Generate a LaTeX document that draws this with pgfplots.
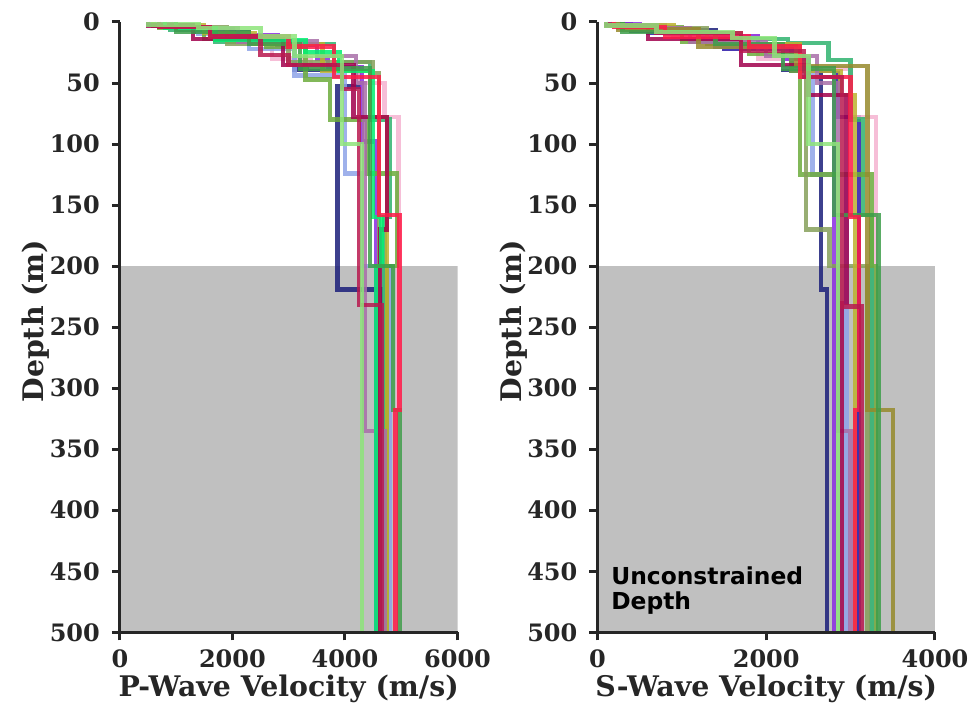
\documentclass[border=0pt]{standalone}
\usepackage{fontspec}
\setmainfont{DejaVu Serif}
\newfontfamily\sansfnt{DejaVu Sans}
\usepackage{pgfplots}
\pgfplotsset{compat=1.18}

\definecolor{axgray}{HTML}{262626}
\definecolor{shade}{HTML}{C0C0C0}
\definecolor{cnavy}{HTML}{1B1F7A}
\definecolor{cindigo}{HTML}{2A18A8}
\definecolor{ccrimson}{HTML}{B8194F}
\definecolor{cpink}{HTML}{F4B3D0}
\definecolor{cpurple}{HTML}{8A2BE2}
\definecolor{clblue}{HTML}{8EA3E8}
\definecolor{cgreen}{HTML}{2FB36E}
\definecolor{clgreen}{HTML}{8DE47A}
\definecolor{cogreen}{HTML}{6CAB3C}
\definecolor{cgolive}{HTML}{86A05A}
\definecolor{cyolive}{HTML}{BCB12E}
\definecolor{cmauve}{HTML}{A86EA8}
\definecolor{cred}{HTML}{FF1A47}
\definecolor{cmaroon}{HTML}{A1004C}
\definecolor{cdgreen}{HTML}{3D9E4A}
\definecolor{cbgreen}{HTML}{00F070}
\definecolor{cobrown}{HTML}{968A2C}

\pgfplotsset{
  velax/.style={
    scale only axis, width=169pt, height=305.5pt,
    ymin=0, ymax=500, y dir=reverse,
    axis x line*=bottom, axis y line*=left,
    axis line style={line width=1.5pt, color=axgray},
    tick align=outside,
    major tick length=4pt,
    tick style={line width=1.5pt, color=axgray},
    ytick={0,50,...,500},
    scaled ticks=false,
    /pgf/number format/set thousands separator={},
    /pgf/number format/assume math mode=true,
    tick label style={font=\fontsize{12}{14}\selectfont\bfseries, color=axgray},
    yticklabel style={xshift=-2.5pt},
    xticklabel style={yshift=-1pt},
    label style={font=\fontsize{14.2}{17}\selectfont\bfseries, color=axgray},
    ylabel style={at={(axis description cs:-0.2485,0.51)}, anchor=center},
    xlabel style={at={(axis description cs:0.5,-0.0933)}, anchor=center},
    axis on top,
    clip=true,
  },
  prof/.style={line width=2.2pt, opacity=0.85, no marks, line join=miter, sharp plot},
}

\begin{document}
\begin{tikzpicture}
\path (-60pt,-38.5pt) rectangle (427.5pt,316.5pt);

% ---------------- P-wave ----------------
\begin{axis}[velax, at={(0,0)}, anchor=south west,
  xmin=0, xmax=6000, xtick={0,2000,4000,6000},
  xlabel={P-Wave Velocity (m/s)}, ylabel={Depth (m)}]
\addplot[fill=shade, draw=none] coordinates {(0,200) (6000,200) (6000,500) (0,500)} -- cycle;
\addplot[prof, cnavy] coordinates {(600,0)(600,3)(1300,3)(1300,8)(2300,8)(2300,17)(3100,17)(3100,39)(4250,39)(4250,53)(3870,53)(3870,219)(4630,219)(4630,500)};
\addplot[prof, cpink] coordinates {(800,0)(800,5)(1800,5)(1800,14)(2700,14)(2700,30)(3400,30)(3400,37)(4250,37)(4250,50)(4700,50)(4700,78)(4950,78)(4950,500)};
\addplot[prof, cpurple] coordinates {(500,0)(500,2)(1000,2)(1000,6)(2000,6)(2000,11)(2800,11)(2800,19)(3500,19)(3500,30)(3700,30)(3700,37)(4300,37)(4300,98)(4550,98)(4550,500)};
\addplot[prof, clblue] coordinates {(650,0)(650,3)(1400,3)(1400,10)(2300,10)(2300,22)(3100,22)(3100,44)(4000,44)(4000,124)(4300,124)(4300,200)(4800,200)(4800,500)};
\addplot[prof, cgreen] coordinates {(900,0)(900,6)(1700,6)(1700,16)(3100,16)(3100,18)(3800,18)(3800,33)(4450,33)(4450,80)(4800,80)(4800,160)(4700,160)(4700,500)};
\addplot[prof, cogreen] coordinates {(700,0)(700,5)(1500,5)(1500,14)(2600,14)(2600,20)(3300,20)(3300,47)(3730,47)(3730,80)(4400,80)(4400,124)(4920,124)(4920,200)(4750,200)(4750,500)};
\addplot[prof, cgolive] coordinates {(800,0)(800,4)(1900,4)(1900,18)(3000,18)(3000,33)(4500,33)(4500,42)(4600,42)(4600,500)};
\addplot[prof, cyolive] coordinates {(600,0)(600,3)(1500,3)(1500,9)(2400,9)(2400,18)(3600,18)(3600,40)(4450,40)(4450,78)(4750,78)(4750,500)};
\addplot[prof, cmauve] coordinates {(900,0)(900,5)(2100,5)(2100,16)(3500,16)(3500,28)(4200,28)(4200,50)(4350,50)(4350,335)(4700,335)(4700,500)};
\addplot[prof, cmaroon] coordinates {(500,0)(500,3)(1300,3)(1300,14)(2900,14)(2900,35)(4150,35)(4150,78)(4750,78)(4750,170)(4620,170)(4620,500)};
\addplot[prof, cbgreen] coordinates {(800,0)(800,5)(1700,5)(1700,15)(3300,15)(3300,25)(3900,25)(3900,40)(4500,40)(4500,160)(4650,160)(4650,200)(4550,200)(4550,500)};
\addplot[prof, cdgreen] coordinates {(1000,0)(1000,8)(2300,8)(2300,18)(3200,18)(3200,38)(4450,38)(4450,200)(4850,200)(4850,318)(4970,318)(4970,500)};
\addplot[prof, cred] coordinates {(700,0)(700,4)(1600,4)(1600,12)(3000,12)(3000,20)(3800,20)(3800,45)(4600,45)(4600,158)(4970,158)(4970,318)(4900,318)(4900,500)};
\addplot[prof, ccrimson] coordinates {(700,0)(700,4)(1600,4)(1600,12)(2500,12)(2500,27)(3000,27)(3000,35)(3950,35)(3950,55)(4250,55)(4250,232)(4650,232)(4650,500)};
\addplot[prof, clgreen] coordinates {(500,0)(500,2)(1400,2)(1400,5)(2500,5)(2500,12)(3100,12)(3100,28)(3950,28)(3950,100)(4300,100)(4300,500)};
\end{axis}

% ---------------- S-wave ----------------
\begin{axis}[velax, at={(239pt,0)}, anchor=south west,
  xmin=0, xmax=4000, xtick={0,2000,4000},
  xlabel={S-Wave Velocity (m/s)}, ylabel={Depth (m)}]
\addplot[fill=shade, draw=none] coordinates {(0,200) (4000,200) (4000,500) (0,500)} -- cycle;
\addplot[prof, cnavy] coordinates {(100,0)(100,2)(400,2)(400,7)(1400,7)(1400,20)(2200,20)(2200,39)(2650,39)(2650,219)(2720,219)(2720,500)};
\addplot[prof, cindigo] coordinates {(150,0)(150,3)(600,3)(600,9)(1500,9)(1500,22)(2300,22)(2300,40)(2850,40)(2850,78)(3100,78)(3100,500)};
\addplot[prof, cpink] coordinates {(200,0)(200,4)(900,4)(900,12)(1900,12)(1900,30)(2500,30)(2500,38)(3000,38)(3000,78)(3300,78)(3300,500)};
\addplot[prof, cpurple] coordinates {(100,0)(100,2)(500,2)(500,6)(1200,6)(1200,12)(1900,12)(1900,22)(2250,22)(2250,30)(2500,30)(2500,45)(2800,45)(2800,500)};
\addplot[prof, clblue] coordinates {(150,0)(150,3)(800,3)(800,10)(1400,10)(1400,20)(2200,20)(2200,37)(2550,37)(2550,125)(2950,125)(2950,500)};
\addplot[prof, cgreen] coordinates {(300,0)(300,5)(1000,5)(1000,14)(2260,14)(2260,17)(2740,17)(2740,31)(3000,31)(3000,80)(3150,80)(3150,158)(3250,158)(3250,500)};
\addplot[prof, cogreen] coordinates {(250,0)(250,4)(1000,4)(1000,16)(1800,16)(1800,26)(2300,26)(2300,40)(2400,40)(2400,125)(3250,125)(3250,200)(3300,200)(3300,500)};
\addplot[prof, cgolive] coordinates {(300,0)(300,5)(1300,5)(1300,18)(2400,18)(2400,33)(2470,33)(2470,170)(2750,170)(2750,200)(3200,200)(3200,500)};
\addplot[prof, cyolive] coordinates {(200,0)(200,3)(900,3)(900,9)(1700,9)(1700,18)(2400,18)(2400,40)(2880,40)(2880,60)(3050,60)(3050,500)};
\addplot[prof, cmauve] coordinates {(250,0)(250,5)(1100,5)(1100,16)(2000,16)(2000,28)(2600,28)(2600,50)(2850,50)(2850,335)(3000,335)(3000,500)};
\addplot[prof, cmaroon] coordinates {(100,0)(100,3)(600,3)(600,14)(1700,14)(1700,35)(2500,35)(2500,60)(2950,60)(2950,230)(2900,230)(2900,500)};
\addplot[prof, cobrown] coordinates {(250,0)(250,6)(1200,6)(1200,20)(2350,20)(2350,36)(3200,36)(3200,318)(3500,318)(3500,500)};
\addplot[prof, cdgreen] coordinates {(300,0)(300,8)(1400,8)(1400,18)(2200,18)(2200,38)(2800,38)(2800,158)(3330,158)(3330,500)};
\addplot[prof, cred] coordinates {(200,0)(200,4)(800,4)(800,12)(1800,12)(1800,20)(2400,20)(2400,45)(3000,45)(3000,160)(3100,160)(3100,318)(3050,318)(3050,500)};
\addplot[prof, ccrimson] coordinates {(150,0)(150,3)(700,3)(700,9)(1700,9)(1700,24)(2450,24)(2450,45)(2900,45)(2900,233)(3130,233)(3130,500)};
\addplot[prof, clgreen] coordinates {(100,0)(100,3)(700,3)(700,8)(1600,8)(1600,13)(2100,13)(2100,28)(2500,28)(2500,100)(2850,100)(2850,500)};
\node[anchor=north west, align=left, inner sep=0pt, font=\sansfnt\fontsize{11.7}{12.5}\selectfont\bfseries, text=black]
  at (axis cs:160,446) {Unconstrained\\Depth};
\end{axis}
\end{tikzpicture}
\end{document}
